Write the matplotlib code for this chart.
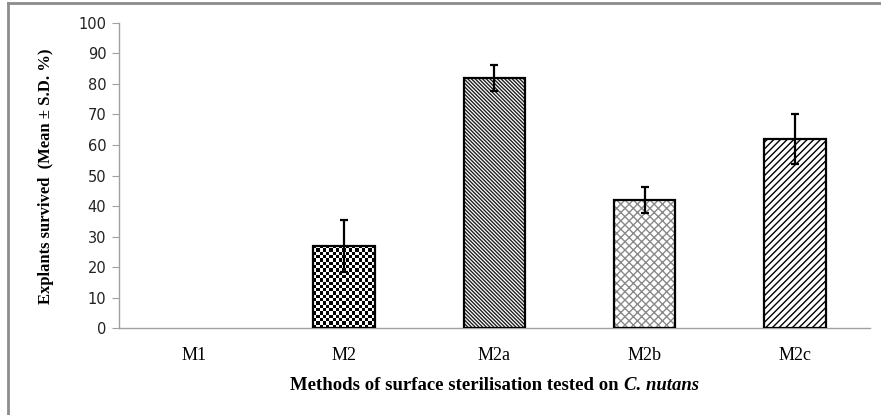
import matplotlib
matplotlib.use("Agg")
import matplotlib.pyplot as plt
import numpy as np
from matplotlib.lines import Line2D

categories = ["M1", "M2", "M2a", "M2b", "M2c"]
means = [0, 27, 82, 42, 62]
sds = [0, 8.5, 4.3, 4.3, 8.3]
yticks = [0, 10, 20, 30, 40, 50, 60, 70, 80, 90, 100]

plt.rcParams['hatch.linewidth'] = 1.0
fig = plt.figure(figsize=(8.81, 4.15), dpi=100)
ax = fig.add_axes([0.135, 0.2096, 0.8525, 0.735])

x = np.arange(len(categories))
width = 0.41
hatches = [None, None, '\\' * 9, 'x' * 4, '/' * 5]
hcolors = ['black', 'black', '#202020', '#8a8a8a', 'black']
bars = []
for i in range(len(categories)):
    if means[i] <= 0:
        bars.append(None)
        continue
    b = ax.bar(x[i], means[i], width, color='white', edgecolor=hcolors[i],
               hatch=hatches[i], linewidth=0, zorder=2)[0]
    ax.bar(x[i], means[i], width, color='none', edgecolor='black',
           linewidth=1.6, zorder=4)
    bars.append(b)

# checkerboard for M2
b = bars[1]
x0, w, h = b.get_x(), b.get_width(), b.get_height()
nx, ny = 19, 25
cb = (np.add.outer(np.arange(ny), np.arange(nx)) % 2).astype(float)
im = ax.imshow(cb, cmap='gray', extent=(x0, x0 + w, 0, h), aspect='auto',
               interpolation='nearest', zorder=3, origin='lower')
im.set_clip_path(b)

ax.errorbar(x[1:], means[1:], yerr=sds[1:], fmt='none', ecolor='black',
            elinewidth=1.6, capsize=3, capthick=1.6, zorder=5)

ax.set_xlim(-0.5, len(categories) - 0.5)
ax.set_ylim(0, 100)
ax.set_yticks(yticks)
ax.set_xticks(x)
ax.set_xticklabels(categories, fontfamily='Liberation Serif', fontsize=13)
ax.tick_params(axis='x', length=0, pad=14)
ax.tick_params(axis='y', length=5, color='#a0a0a0', labelsize=10.5,
               labelcolor='#222222', pad=4)
for s in ['top', 'right']:
    ax.spines[s].set_visible(False)
for s in ['left', 'bottom']:
    ax.spines[s].set_color('#a0a0a0')
    ax.spines[s].set_linewidth(1.0)

ybase = 1 - 390 / 415
t1 = fig.text(0.5, ybase, "Methods of surface sterilisation tested on ",
              fontfamily='Liberation Serif', fontweight='bold', fontsize=13.5,
              ha='left', va='baseline')
t2 = fig.text(0, ybase, "C. nutans", fontfamily='Liberation Serif',
              fontweight='bold', fontstyle='italic', fontsize=13.5,
              ha='left', va='baseline')
fig.canvas.draw()
r = fig.canvas.get_renderer()
w1 = t1.get_window_extent(r).width
w2 = t2.get_window_extent(r).width
axc = (ax.get_position().x0 + ax.get_position().x1) / 2 * fig.bbox.width
start = axc - (w1 + w2) / 2
t1.set_position((start / fig.bbox.width, ybase))
t2.set_position(((start + w1) / fig.bbox.width, ybase))

fig.text(46 / 881, 1 - 176 / 415, "Explants survived  (Mean ± S.D. %)",
         fontfamily='Liberation Serif', fontweight='bold', fontsize=12,
         rotation=90, ha='center', va='center')

# outer frame (left and top edges)
fig.add_artist(Line2D([8 / 881, 8 / 881], [0, 1 - 3 / 415], color='#8c8c8c',
                      lw=2, transform=fig.transFigure))
fig.add_artist(Line2D([8 / 881, 1], [1 - 3 / 415, 1 - 3 / 415], color='#8c8c8c',
                      lw=2, transform=fig.transFigure))

fig.savefig("out.png", dpi=100)
